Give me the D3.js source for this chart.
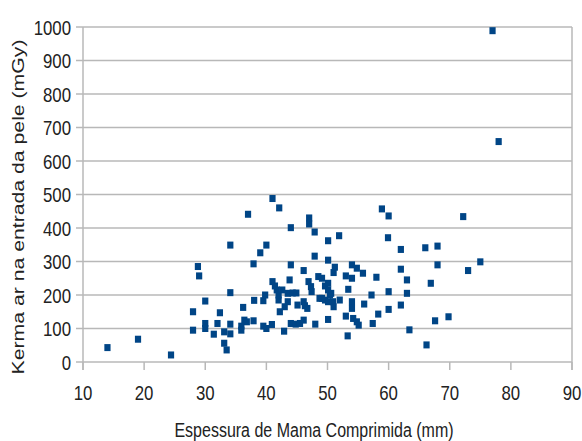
<!DOCTYPE html>
<html lang="pt">
<head>
<meta charset="utf-8">
<title>Kerma ar vs espessura</title>
<script src="https://d3js.org/d3.v7.min.js"></script>
<style>
  body { margin: 0; background: #fff; }
  text { font-family: "Liberation Sans", Arial, sans-serif; fill: #222; }
</style>
</head>
<body>
<script>
// espessura de mama comprimida (mm)
var espessura = [
  14, 19, 24.4, 28.0, 28.0, 28.8, 29.0, 30.0, 30.0, 30.0,
  31.4, 32.0, 32.4, 33.1, 33.1, 33.5, 34.1, 34.1, 34.1, 34.1,
  36.2, 36.4, 35.9, 35.9, 36.8, 37.9, 37.0, 37.9, 38.0, 39.0,
  40.0, 39.5, 39.8, 39.5, 40.0, 40.9, 41.0, 42.1, 41.0, 41.4,
  41.7, 42.6, 42.0, 42.0, 42.2, 43.0, 42.9, 43.5, 43.5, 43.8,
  44.0, 44.0, 44.0, 44.3, 44.8, 44.9, 45.1, 45.5, 46.1, 46.1,
  46.1, 46.3, 46.7, 46.9, 47.3, 47.4, 47.0, 47.0, 47.9, 47.9,
  48.0, 48.5, 48.7, 49.1, 49.6, 50.1, 50.1, 50.4, 50.6, 49.1,
  49.6, 50.1, 50.9, 51.0, 52.0, 53.4, 54.0, 54.0, 56.0, 57.2,
  60.0, 60.0, 62.0, 50.1, 53.0, 54.2, 54.8, 55.1, 53.3, 57.4,
  58.3, 63.4, 66.2, 67.6, 69.8, 50.1, 51.9, 58.9, 60.0, 59.9,
  62.0, 66.0, 68.0, 68.0, 50.1, 51.2, 51.0, 54.0, 54.8, 55.8,
  53.0, 54.0, 58.0, 62.0, 63.0, 63.0, 66.9, 72.2, 73.0, 75.0,
  77.0, 78.0
];
// kerma ar na entrada da pele (mGy)
var kerma = [
  43, 68, 21, 150, 95, 285, 257, 182, 115, 100,
  83, 115, 147, 90, 56, 36, 113, 84, 349, 207,
  163, 125, 107, 95, 120, 123, 441, 293, 184, 326,
  349, 183, 200, 107, 100, 112, 488, 460, 240, 227,
  215, 215, 200, 185, 150, 165, 92, 205, 180, 245,
  401, 290, 115, 206, 113, 206, 170, 115, 273, 180,
  125, 168, 160, 240, 225, 210, 430, 412, 388, 316,
  113, 255, 190, 250, 227, 235, 215, 200, 205, 190,
  185, 180, 180, 165, 185, 217, 180, 160, 173, 200,
  210, 157, 170, 127, 137, 130, 120, 110, 78, 115,
  143, 96, 51, 123, 135, 362, 377, 457, 436, 371,
  336, 341, 346, 290, 304, 283, 267, 290, 280, 265,
  257, 250, 253, 277, 245, 205, 235, 434, 273, 299,
  989, 658
];
var xTicks = [10, 20, 30, 40, 50, 60, 70, 80, 90];
var yTicks = [0, 100, 200, 300, 400, 500, 600, 700, 800, 900, 1000];

var W = 582, H = 441;
var pLeft = 83, pRight = 572, pTop = 27, pBottom = 362;
var gridColor = "#b8b8b8";
var squeeze = 0.8; // the reference text is narrow

var svg = d3.select("body").append("svg")
  .attr("width", W).attr("height", H);

var x = d3.scaleLinear().domain([10, 90]).range([pLeft, pRight]);
var y = d3.scaleLinear().domain([0, 1000]).range([pBottom, pTop]);

// gridlines
svg.append("g").selectAll("line")
  .data(yTicks).enter().append("line")
  .attr("x1", pLeft - 7).attr("x2", pRight)
  .attr("y1", function(d){ return y(d); })
  .attr("y2", function(d){ return y(d); })
  .attr("stroke", gridColor).attr("stroke-width", 1.5);

// plot border left/right
svg.append("line").attr("x1", pLeft).attr("x2", pLeft)
  .attr("y1", pTop).attr("y2", pBottom + 8)
  .attr("stroke", gridColor).attr("stroke-width", 1.5);
svg.append("line").attr("x1", pRight).attr("x2", pRight)
  .attr("y1", pTop).attr("y2", pBottom + 8)
  .attr("stroke", gridColor).attr("stroke-width", 1.5);

// x ticks
svg.append("g").selectAll("line")
  .data(xTicks).enter().append("line")
  .attr("x1", function(d){ return x(d); })
  .attr("x2", function(d){ return x(d); })
  .attr("y1", pBottom).attr("y2", pBottom + 8)
  .attr("stroke", gridColor).attr("stroke-width", 1.5);

// tick labels
var labels = [];
svg.append("g").selectAll("text")
  .data(yTicks).enter().append("text")
  .attr("x", pLeft - 12)
  .attr("y", function(d){ return y(d); })
  .attr("dy", "0.36em")
  .attr("text-anchor", "end")
  .style("font-size", "21px")
  .text(function(d){ return d; })
  .each(function(){ labels.push(this); });

svg.append("g").selectAll("text")
  .data(xTicks).enter().append("text")
  .attr("x", function(d){ return x(d); })
  .attr("y", 400)
  .attr("text-anchor", "middle")
  .style("font-size", "21px")
  .text(function(d){ return d; })
  .each(function(){ labels.push(this); });

// axis titles
var xt = svg.append("text")
  .attr("x", 314).attr("y", 437)
  .attr("text-anchor", "middle")
  .style("font-size", "20px")
  .text("Espessura de Mama Comprimida (mm)");
labels.push(xt.node());

svg.append("text")
  .attr("transform", "translate(24,207) rotate(-90)")
  .attr("text-anchor", "middle")
  .style("font-size", "17px")
  .attr("textLength", 335)
  .attr("lengthAdjust", "spacingAndGlyphs")
  .text("Kerma ar na entrada da pele (mGy)");

// narrow the horizontal texts like the reference
labels.forEach(function(t){
  var len = t.getComputedTextLength();
  t.setAttribute("textLength", len * squeeze);
  t.setAttribute("lengthAdjust", "spacingAndGlyphs");
});

// points
var pts = espessura.map(function(d, i){ return {x: d, y: kerma[i]}; });
svg.append("g").selectAll("rect")
  .data(pts).enter().append("rect")
  .attr("x", function(d){ return x(d.x) - 3.1; })
  .attr("y", function(d){ return y(d.y) - 3.5; })
  .attr("width", 6.2).attr("height", 7)
  .attr("fill", "#004586");
</script>
</body>
</html>
